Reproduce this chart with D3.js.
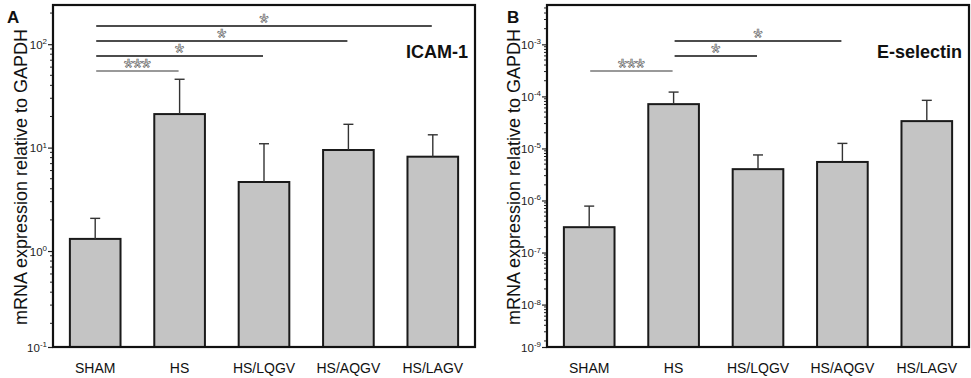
<!DOCTYPE html>
<html><head><meta charset="utf-8">
<script src="https://cdn.jsdelivr.net/npm/d3@7"></script>
<style>body{margin:0;background:#fff}svg{display:block;font-family:"Liberation Sans",Arial,Helvetica,sans-serif}</style>
</head><body><svg id="c" width="971" height="378"></svg>
<script>
// ---- data ----
const categories = ["SHAM", "HS", "HS/LQGV", "HS/AQGV", "HS/LAGV"];
const icamMean  = [1.31, 21.1, 4.65, 9.48, 8.17];
const icamUpper = [2.07, 45.8, 10.9, 16.8, 13.3];
const eselMean  = [3.07e-7, 7.1e-5, 4.0e-6, 5.5e-6, 3.35e-5];
const eselUpper = [7.8e-7, 1.21e-4, 7.5e-6, 1.25e-5, 8.4e-5];
const icamTickValues = [1e-1, 1e0, 1e1, 1e2];
const icamTickExps   = ["-1", "0", "1", "2"];
const eselTickValues = [1e-9, 1e-8, 1e-7, 1e-6, 1e-5, 1e-4, 1e-3];
const eselTickExps   = ["-9", "-8", "-7", "-6", "-5", "-4", "-3"];
// significance: [fromIndex, toIndex, label, row]
const icamSig = [[0, 4, "*", 0], [0, 3, "*", 1], [0, 2, "*", 2], [0, 1, "***", 3]];
const eselSig = [[1, 3, "*", 1], [1, 2, "*", 2], [0, 1, "***", 3]];
const yTitle = "mRNA expression relative to GAPDH";

const svg = d3.select("#c");

function drawPanel(o) {
  const g = svg.append("g");
  const x = d3.scaleBand().domain(categories).range([o.x0, o.x1])
    .paddingInner(0.4).paddingOuter(0.2);
  const y = d3.scaleLog().domain(o.domain).range([o.bottom, o.top]).clamp(true);

  // minor ticks
  const lo = Math.floor(Math.log10(o.domain[0])), hi = Math.ceil(Math.log10(o.domain[1]));
  const minors = [];
  for (let d = lo; d <= hi; d++) for (let k = 2; k <= 9; k++) {
    const v = k * Math.pow(10, d);
    if (v >= o.domain[0] && v <= o.domain[1]) minors.push(v);
  }
  g.append("g").selectAll("line").data(minors).join("line")
    .attr("x1", o.x0 - 3).attr("x2", o.x0)
    .attr("y1", d => y(d)).attr("y2", d => y(d))
    .attr("stroke", "#222").attr("stroke-width", 1);

  const ax = g.append("g").attr("transform", `translate(${o.x0},0)`)
    .call(d3.axisLeft(y).tickValues(o.ticks).tickSize(5).tickFormat(() => ""));
  ax.select(".domain").remove();
  ax.selectAll(".tick line").attr("stroke", "#222").attr("stroke-width", 1.2);
  ax.selectAll(".tick").each(function (d, i) {
    const t = d3.select(this).append("text").attr("x", -6).attr("y", 4)
      .attr("text-anchor", "end").attr("fill", "#222").attr("font-size", 11.5);
    t.append("tspan").text("10");
    t.append("tspan").attr("dy", -4.5).attr("font-size", 8).text(o.tickExps[i]);
  });

  // bars
  g.append("g").selectAll("rect").data(categories).join("rect")
    .attr("x", d => x(d)).attr("width", x.bandwidth())
    .attr("y", (d, i) => y(o.mean[i]))
    .attr("height", (d, i) => o.bottom - y(o.mean[i]))
    .attr("fill", "#c4c4c4").attr("stroke", "#1a1a1a").attr("stroke-width", 2);

  // error bars
  const eb = g.append("g").attr("stroke", "#333").attr("stroke-width", 1.4);
  categories.forEach((c, i) => {
    const cx = x(c) + x.bandwidth() / 2;
    eb.append("line").attr("x1", cx).attr("x2", cx)
      .attr("y1", y(o.mean[i])).attr("y2", y(o.upper[i]));
    eb.append("line").attr("x1", cx - 5).attr("x2", cx + 5)
      .attr("y1", y(o.upper[i])).attr("y2", y(o.upper[i]));
  });

  // significance
  o.sig.forEach(([a, b, lab, row]) => {
    const yy = 26 + row * 15;
    const xa = x(categories[a]) + x.bandwidth() / 2 + 1;
    const xb = x(categories[b]) + x.bandwidth() / 2 - 1;
    g.append("line").attr("x1", xa).attr("x2", xb).attr("y1", yy).attr("y2", yy)
      .attr("stroke", lab === "***" ? "#777" : "#111").attr("stroke-width", 1.3);
    g.append("text").attr("x", (xa + xb) / 2).attr("y", yy + 5)
      .attr("text-anchor", "middle").attr("font-size", 23).attr("fill", "#fff")
      .attr("stroke", "#666").attr("stroke-width", 0.7)
      .text(lab);
  });

  // frame
  g.append("rect").attr("x", o.x0).attr("y", o.top)
    .attr("width", o.x1 - o.x0).attr("height", o.bottom - o.top)
    .attr("fill", "none").attr("stroke", "#111").attr("stroke-width", 2.2);

  // x labels
  g.append("g").selectAll("text").data(categories).join("text")
    .attr("x", d => x(d) + x.bandwidth() / 2).attr("y", 373)
    .attr("text-anchor", "middle").attr("font-size", 14).attr("fill", "#111")
    .text(d => d);

  // y title
  g.append("text").attr("transform", `translate(${o.titleX},177) rotate(-90)`)
    .attr("text-anchor", "middle").attr("font-size", 18).attr("fill", "#111")
    .text(yTitle);

  // gene name
  g.append("text").attr("x", o.x1 - 7).attr("y", 58).attr("text-anchor", "end")
    .attr("font-size", 18).attr("font-weight", "bold").attr("fill", "#111").text(o.gene);

  // panel letter
  g.append("text").attr("x", o.letterX).attr("y", 23).attr("font-size", 17)
    .attr("font-weight", "bold").attr("fill", "#111").text(o.letter);
}

drawPanel({
  x0: 53, x1: 475, top: 5, bottom: 347,
  domain: [Math.pow(10, -0.928), Math.pow(10, 2.379)],
  ticks: icamTickValues, tickExps: icamTickExps,
  mean: icamMean, upper: icamUpper, sig: icamSig,
  gene: "ICAM-1", letter: "A", letterX: 7, titleX: 27
});
drawPanel({
  x0: 547, x1: 969, top: 5, bottom: 347,
  domain: [Math.pow(10, -8.815), Math.pow(10, -2.244)],
  ticks: eselTickValues, tickExps: eselTickExps,
  mean: eselMean, upper: eselUpper, sig: eselSig,
  gene: "E-selectin", letter: "B", letterX: 507, titleX: 520
});
</script></body></html>
